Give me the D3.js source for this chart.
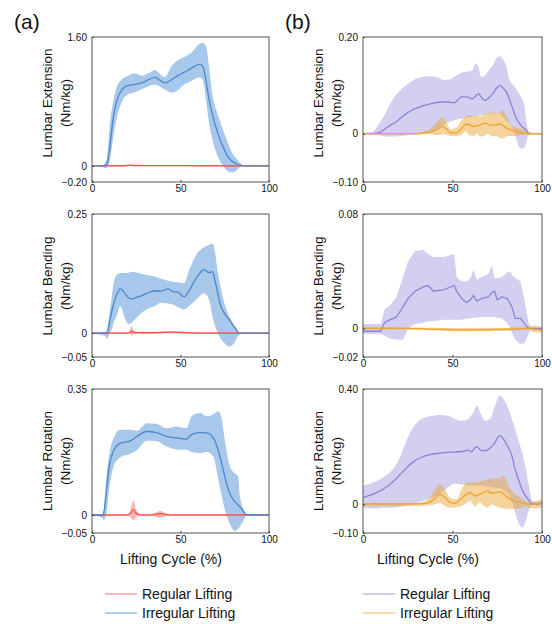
<!DOCTYPE html>
<html>
<head>
<meta charset="utf-8">
<script src="https://cdn.jsdelivr.net/npm/d3@7"></script>
<style>
  body { margin: 0; background: #fff; }
  text { font-family: "Liberation Sans", Arial, sans-serif; fill: #111; }
</style>
</head>
<body>
<div id="chart"></div>
<script>
// ---- DATA (lifting cycle %, mean / lower / upper) ----

const xTicks = [0, 50, 100];

// (a) Extension
const extA_irrX  = [0, 6, 7, 8.5, 10, 12, 14, 17, 20.5, 24, 28, 32, 35.5, 38, 41, 45, 48.5, 52, 56, 60.5, 62.5, 64.5, 66, 68, 71, 74, 76.5, 79, 82, 84, 86, 100];
const extA_irrM  = [0, 0, 0.005, 0.03, 0.22, 0.6, 0.81, 0.95, 1.0, 1.01, 1.03, 1.07, 1.10, 1.07, 1.03, 1.07, 1.12, 1.16, 1.21, 1.26, 1.24, 1.05, 0.84, 0.64, 0.41, 0.24, 0.12, 0.06, 0.02, 0.005, 0, 0];
const extA_irrHi = [0, 0, 0.02, 0.1, 0.5, 0.8, 0.98, 1.08, 1.12, 1.15, 1.12, 1.15, 1.19, 1.15, 1.10, 1.24, 1.31, 1.35, 1.40, 1.51, 1.53, 1.48, 1.25, 0.89, 0.64, 0.45, 0.30, 0.17, 0.08, 0.03, 0, 0];
const extA_irrLo = [0, -0.01, -0.03, -0.02, 0.05, 0.35, 0.6, 0.8, 0.89, 0.91, 0.95, 0.99, 1.01, 0.99, 0.95, 0.91, 0.94, 1.01, 1.05, 1.10, 1.07, 0.81, 0.55, 0.33, 0.12, 0.0, -0.06, -0.08, -0.05, -0.01, 0, 0];
const extA_regX  = [0, 15, 20, 22, 24, 30, 45, 60, 84, 100];
const extA_regM  = [0, 0.002, 0.005, 0.01, 0.005, 0.003, 0.004, 0.002, 0, 0];
const extA_regHi = [0.008, 0.01, 0.013, 0.018, 0.013, 0.011, 0.012, 0.01, 0.008, 0.008];
const extA_regLo = [-0.008, -0.006, -0.003, 0.002, -0.003, -0.005, -0.004, -0.006, -0.008, -0.008];
const extA_ticks = [-0.2, 0, 1.6];

// (a) Bending
const bendA_irrX  = [0, 7.5, 8.5, 10, 11.2, 12.5, 14, 16, 18.7, 20.5, 22.4, 26, 30.8, 35.4, 39, 43, 45.7, 48.5, 52, 55, 58.8, 63.4, 66.2, 68, 69.5, 71, 72.5, 74.6, 77.4, 80, 81.5, 83, 84, 100];
const bendA_irrM  = [0, 0, 0, 0.025, 0.046, 0.065, 0.081, 0.093, 0.083, 0.075, 0.072, 0.076, 0.083, 0.089, 0.088, 0.093, 0.087, 0.086, 0.076, 0.09, 0.115, 0.133, 0.127, 0.129, 0.11, 0.085, 0.06, 0.043, 0.029, 0.015, 0.008, 0, 0, 0];
const bendA_irrHi = [0, 0.002, 0.008, 0.045, 0.077, 0.11, 0.122, 0.126, 0.126, 0.127, 0.129, 0.127, 0.122, 0.119, 0.114, 0.11, 0.108, 0.107, 0.105, 0.133, 0.164, 0.18, 0.185, 0.188, 0.17, 0.129, 0.1, 0.065, 0.036, 0.019, 0.01, 0.002, 0, 0];
const bendA_irrLo = [0, -0.006, -0.012, 0, 0.008, 0.025, 0.036, 0.057, 0.03, 0.019, 0.022, 0.036, 0.05, 0.057, 0.064, 0.062, 0.06, 0.055, 0.05, 0.057, 0.07, 0.084, 0.07, 0.036, 0.015, 0.001, -0.01, -0.02, -0.028, -0.022, -0.012, -0.004, 0, 0];
const bendA_regX  = [0, 20, 21.5, 22.4, 23.3, 25, 35, 45, 60, 100];
const bendA_regM  = [0, 0, 0.002, 0.005, 0.002, 0.001, 0.001, 0.002, 0, 0];
const bendA_regHi = [0.002, 0.002, 0.006, 0.015, 0.006, 0.003, 0.003, 0.004, 0.002, 0.002];
const bendA_regLo = [-0.002, -0.002, -0.002, -0.006, -0.002, -0.002, -0.001, 0, -0.002, -0.002];
const bendA_ticks = [-0.05, 0, 0.25];

// (a) Rotation
const rotA_irrX  = [0, 6, 6.6, 8, 9.9, 12.2, 15.9, 21.6, 25.3, 31, 36.6, 42.2, 47.8, 53.5, 56.3, 61, 64.7, 68.5, 71.3, 73.2, 75, 77.9, 80.7, 82.6, 83.5, 86.3, 87.2, 100];
const rotA_irrM  = [0, 0, 0.005, 0.06, 0.14, 0.178, 0.199, 0.206, 0.218, 0.232, 0.229, 0.218, 0.214, 0.211, 0.224, 0.229, 0.228, 0.215, 0.18, 0.145, 0.107, 0.06, 0.037, 0.027, 0.023, 0.005, 0, 0];
const rotA_irrHi = [0, 0.002, 0.01, 0.1, 0.172, 0.214, 0.237, 0.237, 0.234, 0.255, 0.253, 0.241, 0.246, 0.241, 0.274, 0.283, 0.274, 0.279, 0.288, 0.269, 0.209, 0.135, 0.116, 0.107, 0.055, 0.009, 0, 0];
const rotA_irrLo = [0, -0.008, -0.014, 0, 0.08, 0.135, 0.16, 0.17, 0.18, 0.206, 0.205, 0.19, 0.182, 0.181, 0.175, 0.172, 0.175, 0.163, 0.1, 0.055, 0.015, -0.025, -0.044, -0.038, -0.032, -0.009, 0, 0];
const rotA_regX  = [0, 20, 21.5, 22.5, 23.5, 24.5, 26, 28, 33, 35, 37, 38.5, 40, 42, 44, 100];
const rotA_regM  = [0, 0, 0.004, 0.01, 0.015, 0.007, 0.002, 0, 0, 0.001, 0.003, 0.004, 0.003, 0.001, 0, 0];
const rotA_regHi = [0.001, 0.001, 0.012, 0.03, 0.042, 0.02, 0.006, 0.001, 0.001, 0.005, 0.009, 0.011, 0.009, 0.004, 0.001, 0.001];
const rotA_regLo = [-0.001, -0.001, -0.004, -0.012, -0.015, -0.008, -0.003, -0.001, -0.001, -0.004, -0.007, -0.008, -0.007, -0.003, -0.001, -0.001];
const rotA_ticks = [-0.05, 0, 0.35];

// (b) Extension
const extB_regX  = [0, 5, 9, 12, 15, 18, 21, 24, 27, 30, 33, 36, 39, 42, 45, 48, 51, 53, 55, 58, 61, 63, 64.5, 66, 68, 70, 72.5, 75, 76.5, 78, 80, 82, 84, 86, 88, 90, 91.5, 93, 100];
const extB_regM  = [0, 0, 0.002, 0.009, 0.017, 0.023, 0.032, 0.041, 0.048, 0.053, 0.057, 0.06, 0.063, 0.065, 0.066, 0.065, 0.064, 0.07, 0.076, 0.076, 0.072, 0.078, 0.083, 0.076, 0.069, 0.073, 0.083, 0.096, 0.1, 0.095, 0.087, 0.069, 0.048, 0.03, 0.018, 0.011, 0.006, 0, 0];
const extB_regHi = [0.002, 0.003, 0.021, 0.038, 0.06, 0.078, 0.09, 0.1, 0.108, 0.114, 0.117, 0.119, 0.119, 0.116, 0.111, 0.112, 0.118, 0.122, 0.126, 0.128, 0.13, 0.145, 0.138, 0.117, 0.12, 0.13, 0.141, 0.158, 0.16, 0.155, 0.14, 0.11, 0.1, 0.09, 0.078, 0.06, 0.02, 0, 0];
const extB_regLo = [-0.001, -0.001, -0.004, -0.006, -0.006, -0.006, -0.005, -0.004, -0.003, -0.002, -0.001, 0.001, 0.003, 0.01, 0.018, 0.024, 0.028, 0.03, 0.031, 0.033, 0.035, 0.037, 0.038, 0.038, 0.04, 0.041, 0.041, 0.041, 0.04, 0.035, 0.028, 0.02, 0.008, -0.015, -0.031, -0.03, -0.014, 0, 0];
const extB_irrX  = [0, 30, 33, 36, 39, 42, 44.5, 46.5, 49, 52, 55, 57.5, 59.5, 61.5, 63.5, 65.5, 68, 70, 72, 74, 76, 78, 80, 82.5, 85, 88, 91, 95, 100];
const extB_irrM  = [0, 0, 0.001, 0.003, 0.005, 0.01, 0.015, 0.01, 0.002, 0.001, 0.01, 0.02, 0.018, 0.015, 0.016, 0.018, 0.022, 0.02, 0.017, 0.018, 0.02, 0.018, 0.012, 0.008, 0.005, 0.002, 0.001, 0, 0];
const extB_irrHi = [0.001, 0.001, 0.003, 0.007, 0.014, 0.027, 0.034, 0.024, 0.009, 0.012, 0.028, 0.036, 0.038, 0.036, 0.038, 0.036, 0.041, 0.043, 0.045, 0.042, 0.043, 0.048, 0.038, 0.018, 0.014, 0.01, 0.006, 0.002, 0.001];
const extB_irrLo = [-0.001, -0.001, -0.001, -0.001, -0.002, -0.003, -0.001, -0.003, -0.005, -0.005, -0.003, 0.005, -0.004, -0.005, 0, -0.006, -0.004, 0, -0.006, -0.005, -0.008, -0.01, -0.006, -0.005, -0.005, -0.003, -0.002, -0.001, -0.001];
const extB_ticks = [-0.1, 0, 0.2];

// (b) Bending
const bendB_regX  = [0, 10, 12, 15, 18.7, 22.4, 25.2, 29, 33.6, 36.4, 39.3, 45, 51, 52.3, 55, 58, 60, 61.7, 63.5, 66.4, 70, 72, 73.5, 75, 77.6, 80.4, 82, 83.5, 85, 88, 90.5, 92.5, 94, 100];
const bendB_regM  = [-0.002, -0.002, 0.004, 0.006, 0.008, 0.015, 0.021, 0.026, 0.029, 0.03, 0.026, 0.027, 0.03, 0.026, 0.021, 0.018, 0.02, 0.023, 0.019, 0.021, 0.022, 0.025, 0.026, 0.02, 0.022, 0.021, 0.018, 0.014, 0.007, 0.007, 0.003, 0, 0, 0];
const bendB_regHi = [0.003, 0.003, 0.013, 0.016, 0.022, 0.036, 0.047, 0.054, 0.055, 0.052, 0.05, 0.05, 0.052, 0.036, 0.033, 0.033, 0.035, 0.041, 0.034, 0.036, 0.038, 0.044, 0.035, 0.035, 0.036, 0.039, 0.04, 0.037, 0.035, 0.033, 0.018, 0.004, 0, 0];
const bendB_regLo = [-0.004, -0.004, -0.005, -0.007, -0.008, -0.008, 0, 0.003, 0.004, 0.005, 0.005, 0.006, 0.006, 0.006, 0.006, 0.007, 0.007, 0.0075, 0.0075, 0.008, 0.008, 0.008, 0.008, 0.0075, 0.007, 0.004, 0.001, -0.004, -0.008, -0.011, -0.01, -0.004, 0, 0];
const bendB_irrX  = [0, 20, 40, 55, 70, 85, 92, 95, 100];
const bendB_irrM  = [0, 0, -0.0005, -0.001, -0.0008, -0.0005, 0, -0.0005, -0.001];
const bendB_irrHi = [0.0008, 0.0008, 0.0005, 0.0002, 0.0004, 0.0006, 0.001, 0.002, 0.001];
const bendB_irrLo = [-0.0008, -0.0008, -0.0015, -0.002, -0.002, -0.0015, -0.001, -0.0025, -0.003];
const bendB_ticks = [-0.02, 0, 0.08];

// (b) Rotation
const rotB_regX  = [0, 5.6, 11.2, 16.8, 20.6, 24.3, 28, 32.7, 37.4, 43, 47.7, 51.4, 55.1, 58.9, 60.7, 61.7, 63.6, 65.8, 68.2, 71, 73.8, 76.3, 78.9, 81.3, 83.2, 85, 86.9, 88.8, 90.7, 92.5, 94.4, 97, 100];
const rotB_regM  = [0.023, 0.035, 0.052, 0.078, 0.102, 0.126, 0.147, 0.163, 0.172, 0.177, 0.18, 0.181, 0.183, 0.188, 0.182, 0.19, 0.2, 0.187, 0.186, 0.195, 0.215, 0.238, 0.222, 0.195, 0.168, 0.12, 0.085, 0.052, 0.03, 0.015, 0, 0, 0.006];
const rotB_regHi = [0.064, 0.075, 0.093, 0.122, 0.162, 0.22, 0.267, 0.296, 0.305, 0.31, 0.307, 0.296, 0.29, 0.296, 0.31, 0.319, 0.342, 0.313, 0.29, 0.296, 0.342, 0.377, 0.36, 0.33, 0.296, 0.26, 0.22, 0.18, 0.13, 0.07, 0.015, 0.008, 0.012];
const rotB_regLo = [-0.012, -0.015, -0.012, -0.012, -0.009, -0.005, 0, 0.01, 0.02, 0.035, 0.06, 0.072, 0.068, 0.065, 0.065, 0.065, 0.065, 0.065, 0.063, 0.06, 0.058, 0.055, 0.048, 0.035, 0.012, -0.029, -0.064, -0.081, -0.064, -0.023, 0, -0.004, -0.006];
const rotB_irrX  = [0, 30, 32, 35.5, 38, 40.2, 43, 45.8, 48.6, 50.5, 52.3, 55.1, 58, 59.8, 61.5, 62.6, 64, 65.4, 67.3, 69.2, 72, 74, 76.6, 78.5, 81.3, 84, 87.9, 90, 92.5, 95, 97.2, 100];
const rotB_irrM  = [0.001, 0.001, 0.002, 0.004, 0.01, 0.02, 0.035, 0.023, 0.006, 0.003, 0.006, 0.02, 0.035, 0.04, 0.033, 0.029, 0.032, 0.035, 0.04, 0.046, 0.038, 0.04, 0.043, 0.036, 0.022, 0.012, 0.006, 0.003, 0, 0, 0.002, 0.003];
const rotB_irrHi = [0.004, 0.004, 0.006, 0.012, 0.03, 0.052, 0.07, 0.052, 0.023, 0.018, 0.017, 0.052, 0.075, 0.077, 0.075, 0.075, 0.077, 0.079, 0.081, 0.085, 0.089, 0.089, 0.09, 0.099, 0.064, 0.04, 0.023, 0.015, 0.006, 0.008, 0.012, 0.017];
const rotB_irrLo = [-0.006, -0.006, -0.006, -0.005, -0.003, 0, 0.004, -0.006, -0.012, -0.012, -0.01, -0.006, 0.005, 0.012, 0, -0.008, 0, 0.006, -0.005, -0.012, 0, -0.006, -0.012, -0.014, -0.017, -0.016, -0.015, -0.006, -0.012, -0.014, -0.015, -0.012];
const rotB_ticks = [-0.1, 0, 0.4];

// ---- COLOURS ----
const red = { line: "#ff5050", band: "#ff6a6a" },
  blue = { line: "#4a88c8", band: "#4f8fd8" },
  purple = { line: "#8a84d4", band: "#a5a0e2" },
  orange = { line: "#eda52e", band: "#eaa83a" };

function series(xs, m, lo, hi, col, curve) {
  return {
    col: col,
    curve: curve || d3.curveMonotoneX,
    rows: xs.map(function(x, i) { return { x: x, m: m[i], lo: lo[i], hi: hi[i] }; })
  };
}

// column/row frames
let cols = [[92, 269], [363, 542]],
  rows = [[37, 182], [214, 357], [389, 533]],
  titleY = [103, 286, 461];

let panels = [
  { c: 0, r: 0, name: "Lumbar Extension", ticks: extA_ticks,
    s: [series(extA_regX, extA_regM, extA_regLo, extA_regHi, red),
        series(extA_irrX, extA_irrM, extA_irrLo, extA_irrHi, blue)] },
  { c: 0, r: 1, name: "Lumbar Bending", ticks: bendA_ticks,
    s: [series(bendA_regX, bendA_regM, bendA_regLo, bendA_regHi, red),
        series(bendA_irrX, bendA_irrM, bendA_irrLo, bendA_irrHi, blue)] },
  { c: 0, r: 2, name: "Lumbar Rotation", ticks: rotA_ticks,
    s: [series(rotA_regX, rotA_regM, rotA_regLo, rotA_regHi, red),
        series(rotA_irrX, rotA_irrM, rotA_irrLo, rotA_irrHi, blue)] },
  { c: 1, r: 0, name: "Lumbar Extension", ticks: extB_ticks,
    s: [series(extB_regX, extB_regM, extB_regLo, extB_regHi, purple),
        series(extB_irrX, extB_irrM, extB_irrLo, extB_irrHi, orange)] },
  { c: 1, r: 1, name: "Lumbar Bending", ticks: bendB_ticks,
    s: [series(bendB_regX, bendB_regM, bendB_regLo, bendB_regHi, purple, d3.curveLinear),
        series(bendB_irrX, bendB_irrM, bendB_irrLo, bendB_irrHi, orange)] },
  { c: 1, r: 2, name: "Lumbar Rotation", ticks: rotB_ticks,
    s: [series(rotB_regX, rotB_regM, rotB_regLo, rotB_regHi, purple),
        series(rotB_irrX, rotB_irrM, rotB_irrLo, rotB_irrHi, orange)] }
];

let svg = d3
  .select("#chart")
  .append("svg")
  .attr("width", 552)
  .attr("height", 624);

svg.append("rect").attr("width", 552).attr("height", 624).attr("fill", "#fff");

let fmt = function(v) { return v === 0 ? "0" : d3.format(".2f")(v); };

panels.forEach(function(p, k) {
  let x0 = cols[p.c][0], x1 = cols[p.c][1],
    y0 = rows[p.r][0], y1 = rows[p.r][1];

  let x = d3.scaleLinear().domain([0, 100]).range([x0, x1]);
  let y = d3.scaleLinear().domain([p.ticks[0], p.ticks[2]]).range([y1, y0]);

  svg.append("clipPath").attr("id", "clip" + k)
    .append("rect").attr("x", x0).attr("y", y0).attr("width", x1 - x0).attr("height", y1 - y0);

  let g = svg.append("g").attr("clip-path", "url(#clip" + k + ")");

  // bands first, then lines (irregular on top)
  p.s.forEach(function(s) {
    let area = d3.area().curve(s.curve)
      .x(function(d) { return x(d.x); })
      .y0(function(d) { return y(d.lo); })
      .y1(function(d) { return y(d.hi); });
    g.append("path").datum(s.rows)
      .attr("d", area)
      .attr("fill", s.col.band)
      .attr("fill-opacity", 0.5);
  });
  p.s.forEach(function(s) {
    let line = d3.line().curve(s.curve)
      .x(function(d) { return x(d.x); })
      .y(function(d) { return y(d.m); });
    g.append("path").datum(s.rows)
      .attr("d", line)
      .attr("fill", "none")
      .attr("stroke", s.col.line)
      .attr("stroke-width", 1.3);
  });

  // AXIS
  let xAxis = d3.axisBottom(x).tickValues(xTicks).tickSizeInner(-2).tickSizeOuter(0).tickPadding(3);
  let yAxis = d3.axisLeft(y).tickValues(p.ticks).tickFormat(fmt).tickSizeInner(-2).tickSizeOuter(0).tickPadding(5);

  let xg = svg.append("g").attr("transform", "translate(0," + y1 + ")").call(xAxis);
  let yg = svg.append("g").attr("transform", "translate(" + x0 + ",0)").call(yAxis);
  [xg, yg].forEach(function(a) {
    a.select(".domain").remove();
    a.selectAll("line").attr("stroke", "#333");
    a.selectAll("text").style("font-size", "10px").attr("fill", "#111")
      .style("font-family", '"Liberation Sans", Arial, sans-serif');
  });

  // frame
  svg.append("rect")
    .attr("x", x0).attr("y", y0)
    .attr("width", x1 - x0).attr("height", y1 - y0)
    .attr("fill", "none")
    .attr("stroke", "#555")
    .attr("stroke-width", 1);

  // y title
  svg.append("text")
    .attr("transform", "translate(" + (x0 - 40.5) + "," + titleY[p.r] + ") rotate(-90)")
    .style("text-anchor", "middle")
    .style("font-size", "13.5px")
    .text(p.name);
  svg.append("text")
    .attr("transform", "translate(" + (x0 - 22) + "," + titleY[p.r] + ") rotate(-90)")
    .style("text-anchor", "middle")
    .style("font-size", "13.5px")
    .text("(Nm/kg)");
});

// x titles
[171, 428].forEach(function(cx) {
  svg.append("text")
    .attr("x", cx).attr("y", 564)
    .style("text-anchor", "middle")
    .style("font-size", "14px")
    .text("Lifting Cycle (%)");
});

// panel letters
svg.append("text").attr("x", 14).attr("y", 28.5).style("font-size", "21px").text("(a)");
svg.append("text").attr("x", 285).attr("y", 28.5).style("font-size", "21px").text("(b)");

// LEGEND
let legend = [
  { x: 105, y: 594, col: red, label: "Regular Lifting" },
  { x: 105, y: 613, col: blue, label: "Irregular Lifting" },
  { x: 363, y: 594, col: purple, label: "Regular Lifting" },
  { x: 363, y: 613, col: orange, label: "Irregular Lifting" }
];
legend.forEach(function(d) {
  svg.append("line")
    .attr("x1", d.x).attr("x2", d.x + 32)
    .attr("y1", d.y).attr("y2", d.y)
    .attr("stroke", d.col.line)
    .attr("stroke-opacity", 0.7)
    .attr("stroke-width", 1.2);
  svg.append("text")
    .attr("x", d.x + 37).attr("y", d.y)
    .attr("dy", "0.36em")
    .style("font-size", "14px")
    .text(d.label);
});
</script>
</body>
</html>
